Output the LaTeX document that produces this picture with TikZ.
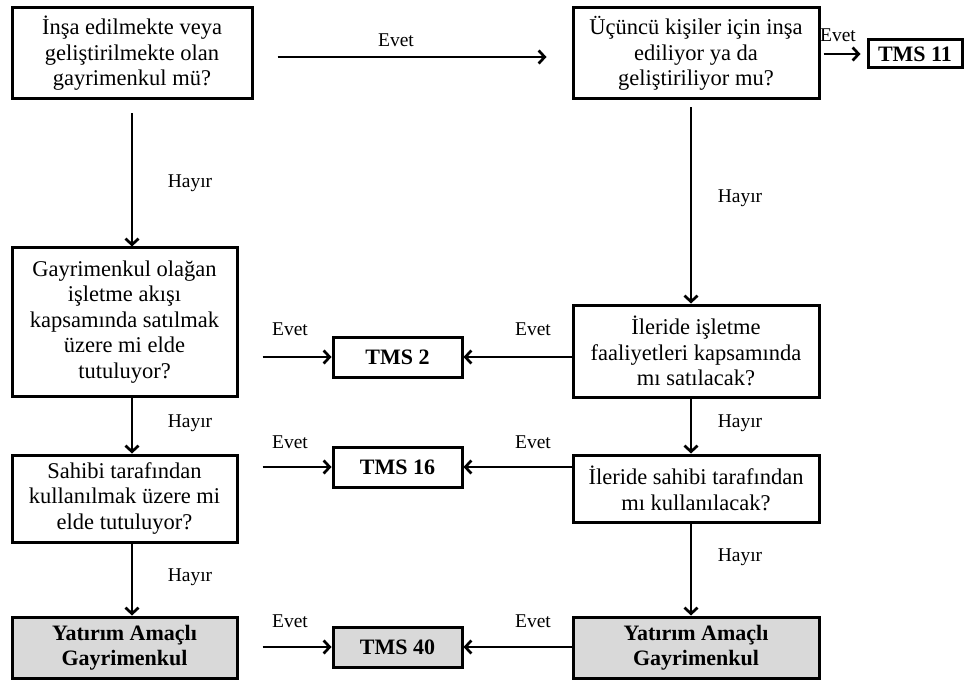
\documentclass[tikz,border=0pt]{standalone}
\usepackage{fontspec}
\setmainfont{Liberation Serif}
\usetikzlibrary{arrows.meta}
\definecolor{boxgray}{HTML}{D9D9D9}
\begin{document}
\begin{tikzpicture}[x=1pt,y=-1pt,
  qbox/.style={draw,line width=3pt,align=center,inner sep=0pt,
    font=\fontsize{22.5}{25.5}\selectfont},
  tbox/.style={draw,line width=3pt,align=center,inner sep=0pt,
    font=\bfseries\fontsize{22}{25}\selectfont},
  gbox/.style={tbox,fill=boxgray},
  lab/.style={font=\fontsize{19.5}{21}\selectfont,inner sep=0pt},
  arr/.style={line width=2.7pt,-{Straight Barb[length=6pt,width=13pt,line width=2.7pt]}}]
\useasboundingbox (0,0) rectangle (968,684);
% question boxes
\node[qbox,minimum width=240,minimum height=91] (A) at (132,53.5)
  {İnşa edilmekte veya\\geliştirilmekte olan\\gayrimenkul mü?};
\node[qbox,minimum width=246,minimum height=91] (B) at (696,53.5)
  {Üçüncü kişiler için inşa\\ediliyor ya da\\geliştiriliyor mu?};
\node[tbox,minimum width=94,minimum height=28] (T11) at (915,54) {TMS 11};
\node[qbox,minimum width=225,minimum height=148] (C) at (124.5,322)
  {Gayrimenkul olağan\\işletme akışı\\kapsamında satılmak\\üzere mi elde\\tutuluyor?};
\node[qbox,minimum width=246,minimum height=92] (D) at (696,351)
  {İleride işletme\\faaliyetleri kapsamında\\mı satılacak?};
\node[tbox,minimum width=129,minimum height=40] (T2) at (397.5,357) {TMS 2};
\node[qbox,minimum width=225,minimum height=87] (E) at (124.5,498.5)
  {Sahibi tarafından\\kullanılmak üzere mi\\elde tutuluyor?};
\node[qbox,minimum width=246,minimum height=67] (F) at (696,488.5)
  {İleride sahibi tarafından\\mı kullanılacak?};
\node[tbox,minimum width=129,minimum height=40] (T16) at (397.5,467) {TMS 16};
\node[gbox,minimum width=225,minimum height=61] (G) at (124.5,647.5)
  {Yatırım Amaçlı\\Gayrimenkul};
\node[gbox,minimum width=246,minimum height=61] (H) at (696,647.5)
  {Yatırım Amaçlı\\Gayrimenkul};
\node[gbox,minimum width=129,minimum height=40] (T40) at (397.5,647) {TMS 40};
% coordinates for arrow lanes
\coordinate (lx) at (132,0);
\coordinate (rx) at (691,0);
% horizontal arrows
\draw[arr,shorten <=24pt,shorten >=25pt] ([yshift=-3.5pt]A.east) -- ([yshift=-3.5pt]A.east -| B.west);
\node[lab] at (396,40) {Evet};
\draw[arr,shorten <=3pt,shorten >=6pt] (B.east |- T11) -- (T11.west);
\node[lab] at (838,35) {Evet};
\draw[arr,shorten <=24pt] (C.east |- T2) -- (T2.west);
\node[lab] at (290,329) {Evet};
\draw[arr] (D.west |- T2) -- (T2.east);
\node[lab] at (533,329) {Evet};
\draw[arr,shorten <=24pt] (E.east |- T16) -- (T16.west);
\node[lab] at (290,442) {Evet};
\draw[arr] (F.west |- T16) -- (T16.east);
\node[lab] at (533,442) {Evet};
\draw[arr,shorten <=24pt] (G.east |- T40) -- (T40.west);
\node[lab] at (290,621) {Evet};
\draw[arr] (H.west |- T40) -- (T40.east);
\node[lab] at (533,621) {Evet};
% vertical arrows
\draw[arr,shorten <=13pt] (lx |- A.south) -- (lx |- C.north);
\node[lab] at (190,183) {Hayır};
\draw[arr,shorten <=7pt] (rx |- B.south) -- (rx |- D.north);
\node[lab] at (740,198) {Hayır};
\draw[arr] (lx |- C.south) -- (lx |- E.north);
\node[lab] at (190,423) {Hayır};
\draw[arr] (rx |- D.south) -- (rx |- F.north);
\node[lab] at (740,423) {Hayır};
\draw[arr] (lx |- E.south) -- (lx |- G.north);
\node[lab] at (190,577) {Hayır};
\draw[arr] (rx |- F.south) -- (rx |- H.north);
\node[lab] at (740,557) {Hayır};
\end{tikzpicture}
\end{document}
